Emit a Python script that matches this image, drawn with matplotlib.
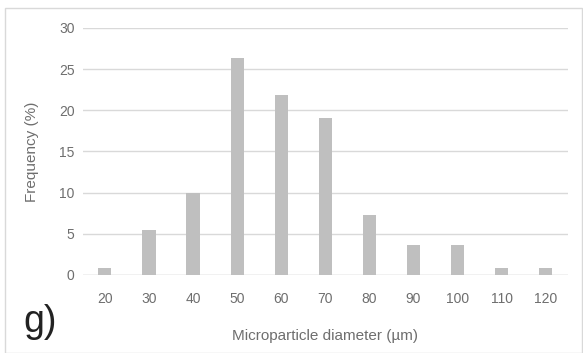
import matplotlib
matplotlib.use("Agg")
import matplotlib.pyplot as plt
from matplotlib.patches import Rectangle

categories = ["20", "30", "40", "50", "60", "70", "80", "90", "100", "110", "120"]
frequency = [0.9, 5.5, 10.0, 26.4, 21.8, 19.1, 7.3, 3.6, 3.6, 0.9, 0.9]
y_ticks = [0, 5, 10, 15, 20, 25, 30]

plt.rcParams['font.family'] = ['Liberation Sans', 'DejaVu Sans']

fig = plt.figure(figsize=(5.83, 3.53), dpi=100)
ax = fig.add_axes([0.142, 0.221, 0.832, 0.700])

x = list(range(len(categories)))
ax.bar(x, frequency, width=0.3, color="#BFBFBF", zorder=3)
ax.set_xlim(-0.5, len(categories) - 0.5)
ax.set_ylim(0, 30)
ax.set_yticks(y_ticks)
ax.set_xticks(x)
ax.set_xticklabels(categories)
ax.yaxis.grid(True, color="#D9D9D9", linewidth=1.0, zorder=0)
for s in ax.spines.values():
    s.set_visible(False)
ax.axhline(0, color="#D9D9D9", linewidth=1.0, zorder=2)
ax.tick_params(axis='both', length=0, labelsize=10, colors="#6E6E6E")
ax.tick_params(axis='x', pad=12)
ax.tick_params(axis='y', pad=6)

ax.set_ylabel("Frequency (%)", fontsize=11, color="#6E6E6E", labelpad=14)
fig.text(0.557, 0.048, "Microparticle diameter (µm)", ha="center", va="center",
         fontsize=11, color="#6E6E6E")
fig.text(0.04, 0.088, "g)", ha="left", va="center", fontsize=27, color="#222222")

fig.patches.append(Rectangle((0.008, 0.0), 0.99, 0.977, transform=fig.transFigure,
                             fill=False, edgecolor="#D9D9D9", linewidth=1.0))

fig.savefig("out.png", dpi=100)
